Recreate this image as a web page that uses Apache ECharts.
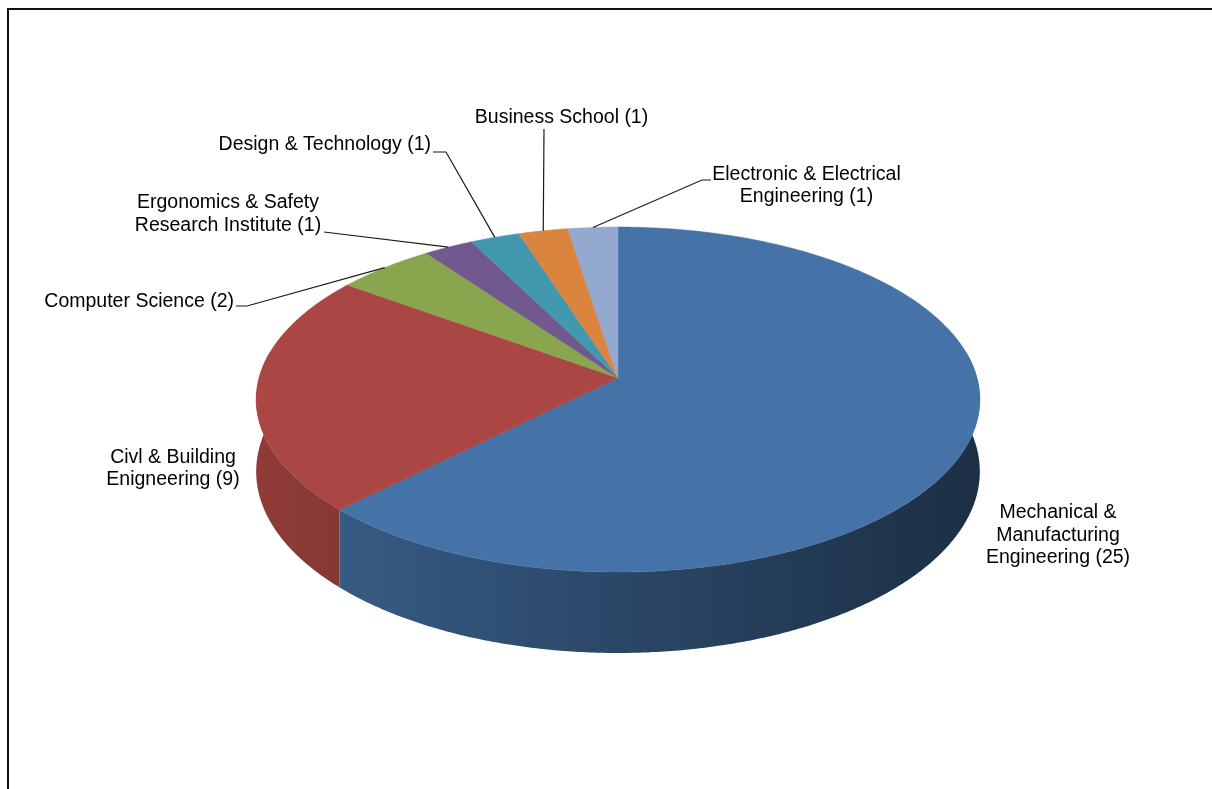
<!DOCTYPE html>
<html><head><meta charset="utf-8">
<script src="https://cdn.jsdelivr.net/npm/echarts@6/dist/echarts.min.js"></script>
<style>html,body{margin:0;padding:0;background:#fff}#c{width:1212px;height:789px}</style>
</head><body><div id="c"></div>
<script>
// ---- data ----
const categories = ['Mechanical &\nManufacturing\nEngineering', 'Civl & Building\nEnigneering', 'Computer Science', 'Ergonomics & Safety\nResearch Institute', 'Design & Technology', 'Business School', 'Electronic & Electrical\nEngineering'];
const values = [25, 9, 2, 1, 1, 1, 1];
const colors = ['#4572A7', '#AA4643', '#89A54E', '#71588F', '#4198AF', '#DB843D', '#93A9CF'];

// ---- layout (pie projection and label placement) ----
const PIE = {cx: 618, cy: 378, R: 359, A: 169.8, m: 0.1247, H: 70.9};
const labelLayout = [
  {x: 1058, y: 535.5, align: 'center', line: null},
  {x: 173, y: 468.5, align: 'center', line: null},
  {x: 234, y: 302, align: 'right', line: [[236, 306], [247, 306]]},
  {x: 228, y: 214, align: 'center', line: [[324, 232]]},
  {x: 431, y: 145, align: 'right', line: [[433, 152], [446, 152]]},
  {x: 561.5, y: 118, align: 'center', line: [[544, 129]]},
  {x: 806.5, y: 185.5, align: 'center', line: [[711, 180], [702, 180]]}
];

const total = values.reduce((a, b) => a + b, 0);
const starts = [];
values.reduce((acc, v, i) => { starts[i] = acc; return acc + v; }, 0);

function proj(theta, drop) {
  const t = theta * Math.PI / 180, u = Math.sin(t), v = -Math.cos(t), s = 1 / (1 - PIE.m * v);
  return [PIE.cx + PIE.R * u * s, PIE.cy + (PIE.A * v + (drop ? PIE.H : 0)) * s];
}
function shade(hex, k) {
  const n = parseInt(hex.slice(1), 16);
  const r = Math.round(((n >> 16) & 255) * k), g = Math.round(((n >> 8) & 255) * k), b = Math.round((n & 255) * k);
  return 'rgb(' + r + ',' + g + ',' + b + ')';
}

const chart = echarts.init(document.getElementById('c'), null, {renderer: 'canvas'});
chart.setOption({
  animation: false,
  backgroundColor: '#fff',
  graphic: [{
    type: 'rect', silent: true,
    shape: {x: 8, y: 9, width: 1400, height: 1000},
    style: {fill: 'none', stroke: '#111', lineWidth: 2}
  }],
  series: [{
    type: 'custom',
    coordinateSystem: 'none',
    silent: true,
    data: values.map((v, i) => ({value: v, name: categories[i]})),
    renderItem: function (params, api) {
      const i = params.dataIndex;
      const val = api.value(0);
      const a0 = starts[i] * 360 / total, a1 = a0 + val * 360 / total;
      const children = [];
      // side wall
      const lo = Math.max(a0, 81), hi = Math.min(a1, 279);
      if (hi > lo) {
        const top = [], bot = [];
        for (let t = lo; t < hi; t += 0.5) { top.push(proj(t, false)); bot.push(proj(t, true)); }
        top.push(proj(hi, false)); bot.push(proj(hi, true));
        const pts = top.concat(bot.reverse());
        children.push({
          type: 'polygon', shape: {points: pts},
          style: {
            fill: {type: 'linear', x: PIE.cx - PIE.R, y: 0, x2: PIE.cx + PIE.R, y2: 0, global: true,
              colorStops: [{offset: 0, color: shade(colors[i], 0.84)}, {offset: 0.5, color: shade(colors[i], 0.62)}, {offset: 1, color: shade(colors[i], 0.41)}]},
            stroke: null
          }
        });
      }
      // top face
      const tp = [[PIE.cx, PIE.cy]];
      for (let t = a0; t < a1; t += 0.5) tp.push(proj(t, false));
      tp.push(proj(a1, false));
      children.push({type: 'polygon', shape: {points: tp}, style: {fill: colors[i], stroke: colors[i], lineWidth: 0.5}});
      // label
      const L = labelLayout[i];
      if (L.line) {
        const p = L.line.concat([proj((a0 + a1) / 2, false)]);
        children.push({type: 'polyline', shape: {points: p}, style: {stroke: '#1a1a1a', lineWidth: 1.2, fill: null}});
      }
      children.push({
        type: 'text',
        style: {
          text: categories[i] + ' (' + val + ')',
          x: L.x, y: L.y, align: L.align, verticalAlign: 'middle',
          font: '19.5px "Liberation Sans", Arial, sans-serif', fill: '#000', lineHeight: 22.5
        }
      });
      return {type: 'group', children: children};
    }
  }]
});
</script></body></html>
